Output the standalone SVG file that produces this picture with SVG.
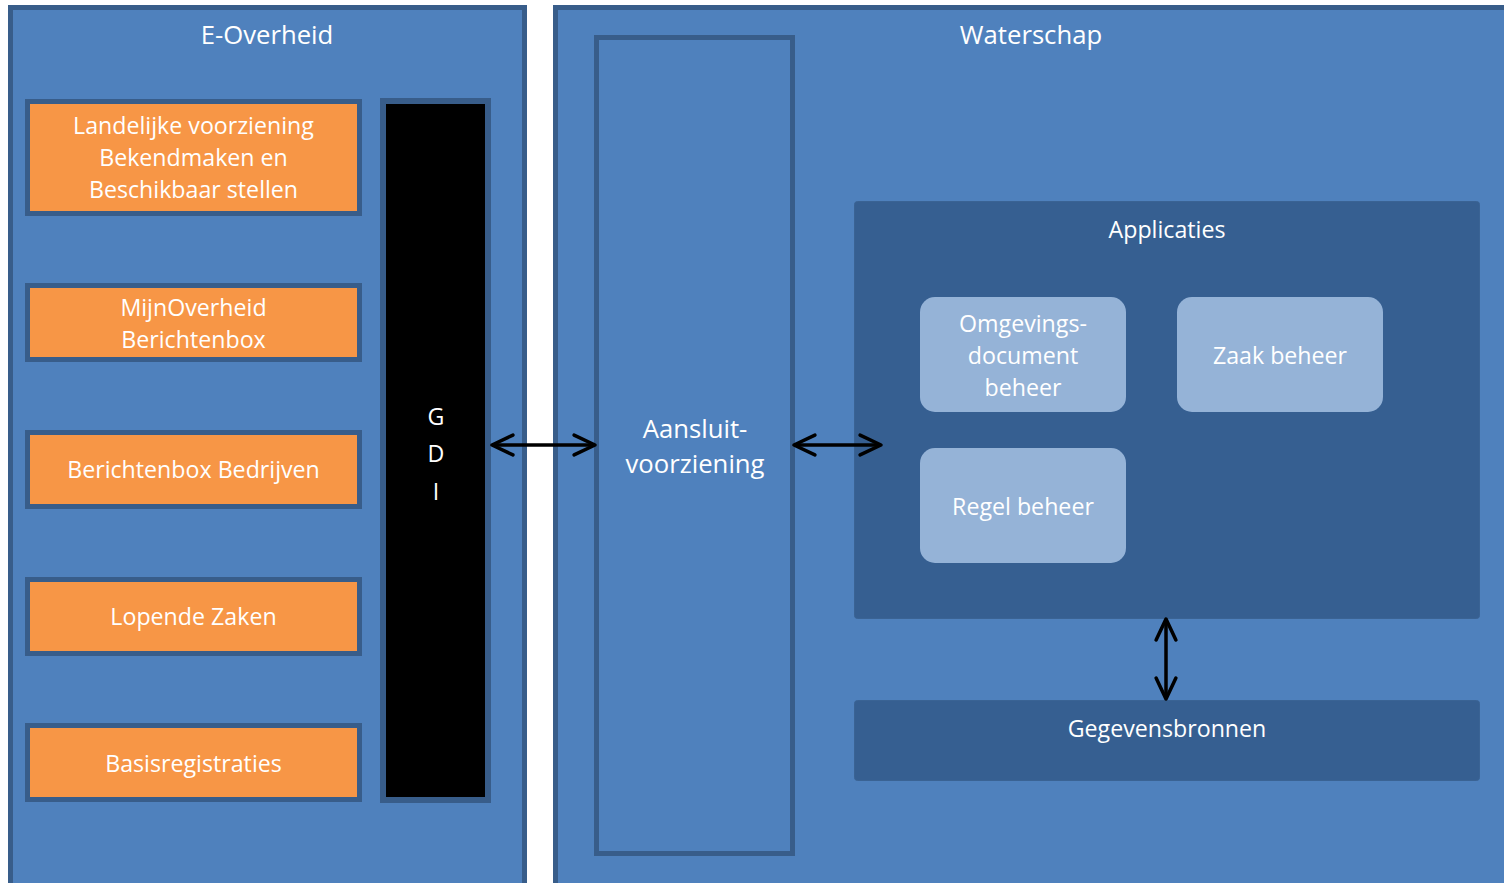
<svg xmlns="http://www.w3.org/2000/svg" width="1504" height="883" viewBox="0 0 1504 883">
<defs>
<style>
.panel{fill:#4F81BD;stroke:#385D8A;stroke-width:5}
.orange{fill:#F79646;stroke:#385D8A;stroke-width:5}
.gdi{fill:#000;stroke:#385D8A;stroke-width:6}
.dark{fill:#365F91;stroke:#3A6394;stroke-width:1}
.light{fill:#95B3D7}
.t{font-family:"Open Sans","Liberation Sans",sans-serif;fill:#fff;text-anchor:middle}
.s22{font-size:23.2px}
.s24{font-size:25.7px}
.conn{stroke:#000;stroke-width:3.5;fill:none;marker-start:url(#ah);marker-end:url(#ah)}
</style>
<marker id="ah" viewBox="0 0 10 10" refX="9.5" refY="5" markerWidth="22" markerHeight="22" markerUnits="userSpaceOnUse" orient="auto-start-reverse" overflow="visible">
<path d="M0,0.5 L9.5,5 L0,9.5" fill="none" stroke="#000" stroke-width="1.6" stroke-linecap="round" stroke-linejoin="round"/>
</marker>
</defs>
<rect width="1504" height="883" fill="#fff"/>
<g id="e-overheid">
<rect class="panel" x="10.5" y="7.5" width="514" height="880"/>
<text class="t s24" x="267" y="44">E-Overheid</text>
</g>
<g id="waterschap">
<rect class="panel" x="555.5" y="7.5" width="960" height="880"/>
<text class="t s24" x="1031" y="44">Waterschap</text>
</g>
<g id="landelijke">
<rect class="orange" x="27.5" y="101.5" width="332" height="112"/>
<text class="t s22" x="193.5" y="134">Landelijke voorziening</text>
<text class="t s22" x="193.5" y="166">Bekendmaken en</text>
<text class="t s22" x="193.5" y="198">Beschikbaar stellen</text>
</g>
<g id="mijnoverheid">
<rect class="orange" x="27.5" y="285.5" width="332" height="74"/>
<text class="t s22" x="193.5" y="316">MijnOverheid</text>
<text class="t s22" x="193.5" y="348">Berichtenbox</text>
</g>
<g id="berichtenbox">
<rect class="orange" x="27.5" y="432.5" width="332" height="74"/>
<text class="t s22" x="193.5" y="478">Berichtenbox Bedrijven</text>
</g>
<g id="lopende">
<rect class="orange" x="27.5" y="579.5" width="332" height="74"/>
<text class="t s22" x="193.5" y="625">Lopende Zaken</text>
</g>
<g id="basis">
<rect class="orange" x="27.5" y="725.5" width="332" height="74"/>
<text class="t s22" x="193.5" y="772">Basisregistraties</text>
</g>
<g id="gdi">
<rect class="gdi" x="383" y="101" width="105" height="699"/>
<text class="t s22" x="436" y="425">G</text>
<text class="t s22" x="436" y="462">D</text>
<text class="t s22" x="436" y="500">I</text>
</g>
<g id="aansluit">
<rect class="panel" x="596.5" y="37.5" width="196" height="816"/>
<text class="t s24" x="695" y="438">Aansluit-</text>
<text class="t s24" x="695" y="473">voorziening</text>
</g>
<g id="applicaties">
<rect class="dark" x="854.5" y="201.5" width="625" height="417" rx="3"/>
<text class="t s22" x="1167" y="238">Applicaties</text>
</g>
<g id="omgevings">
<rect class="light" x="920" y="297" width="206" height="115" rx="15"/>
<text class="t s22" x="1023" y="332">Omgevings-</text>
<text class="t s22" x="1023" y="364">document</text>
<text class="t s22" x="1023" y="396">beheer</text>
</g>
<g id="zaak">
<rect class="light" x="1177" y="297" width="206" height="115" rx="15"/>
<text class="t s22" x="1280" y="364">Zaak beheer</text>
</g>
<g id="regel">
<rect class="light" x="920" y="448" width="206" height="115" rx="15"/>
<text class="t s22" x="1023" y="515">Regel beheer</text>
</g>
<g id="gegevens">
<rect class="dark" x="854.5" y="700.5" width="625" height="80" rx="3"/>
<text class="t s22" x="1167" y="737">Gegevensbronnen</text>
</g>
<g id="connectors">
<line class="conn" x1="492" y1="445" x2="595" y2="445"/>
<line class="conn" x1="794" y1="445" x2="881" y2="445"/>
<line class="conn" x1="1166" y1="619" x2="1166" y2="699"/>
</g>
</svg>
